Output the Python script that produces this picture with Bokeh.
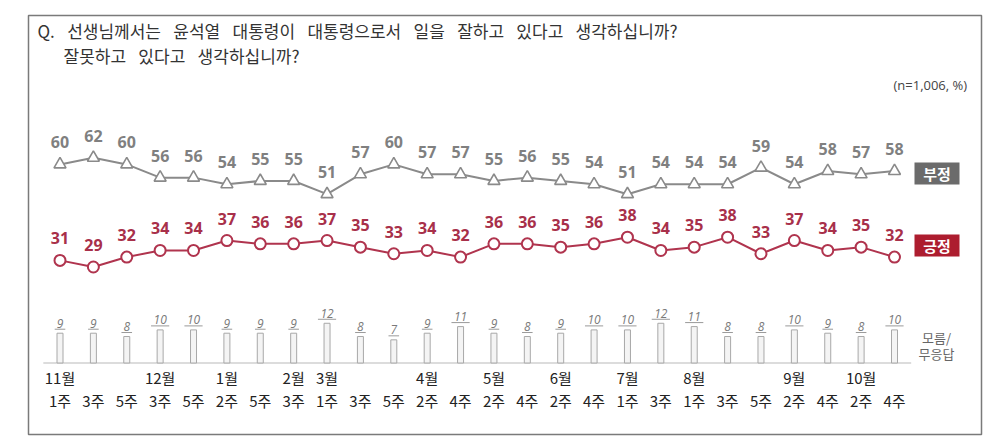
from bokeh.plotting import figure
from bokeh.models import ColumnDataSource, Label
from bokeh.core.properties import value
from bokeh.embed import file_html
from bokeh.resources import INLINE

# survey waves (month label only where a new month starts)
months = ["11월", "", "", "12월", "", "1월", "", "2월", "3월", "", "", "4월", "",
          "5월", "", "6월", "", "7월", "", "8월", "", "", "9월", "", "10월", ""]
weeks = ["1주", "3주", "5주", "3주", "5주", "2주", "5주", "3주", "1주", "3주", "5주", "2주", "4주",
         "2주", "4주", "2주", "4주", "1주", "3주", "1주", "3주", "5주", "2주", "4주", "2주", "4주"]

negative = [60, 62, 60, 56, 56, 54, 55, 55, 51, 57, 60, 57, 57,
            55, 56, 55, 54, 51, 54, 54, 54, 59, 54, 58, 57, 58]
positive = [31, 29, 32, 34, 34, 37, 36, 36, 37, 35, 33, 34, 32,
            36, 36, 35, 36, 38, 34, 35, 38, 33, 37, 34, 35, 32]
dont_know = [9, 9, 8, 10, 10, 9, 9, 9, 12, 8, 7, 9, 11,
             9, 8, 9, 10, 10, 12, 11, 8, 8, 10, 9, 8, 10]

title_1 = "Q. 선생님께서는 윤석열 대통령이 대통령으로서 일을 잘하고 있다고 생각하십니까?"
title_2 = "잘못하고 있다고 생각하십니까?"
sample_note = "(n=1,006,  %)"

KR = "Noto Sans CJK KR"
NUM = "Open Sans"
GREY = "#8a8a8a"
RED = "#b0344e"

# page layout helpers (page px -> data units)
X0, XS = 59.5, 33.38
Y0, YS = 362.5, 3.31


def dx(px):
    return (px - X0) / XS


def dy(py):
    return (Y0 - py) / YS


def wide(s):
    # the original uses wide word gaps
    return s.replace(" ", "\u2002 ")


idx = list(range(len(weeks)))

p = figure(width=993, height=439,
           x_range=(dx(28), dx(981)), y_range=(dy(434), dy(15)),
           x_axis_location=None, y_axis_location=None,
           min_border_left=28, min_border_right=12, min_border_top=15, min_border_bottom=5,
           toolbar_location=None, output_backend="svg")
p.grid.visible = False
p.outline_line_color = "#7a7a7a"
p.outline_line_width = 1.5
p.background_fill_color = "white"

src = ColumnDataSource(data={
    "x": idx,
    "neg": negative,
    "pos": positive,
    "dk": dont_know,
    "neg_t": [str(v) for v in negative],
    "pos_t": [str(v) for v in positive],
    "dk_t": [str(v) for v in dont_know],
    "month": months,
    "week": weeks,
    "ul_x0": [i - (3.8 * len(str(v)) + 1.5) / XS for i, v in zip(idx, dont_know)],
    "ul_x1": [i + (3.8 * len(str(v)) + 1.5) / XS for i, v in zip(idx, dont_know)],
    "ul_y": [v + 4.0 / YS for v in dont_know],
    "m_y": [dy(377)] * len(idx),
    "w_y": [dy(400)] * len(idx),
})

# don't know / no answer bars
p.segment(x0=-0.5, x1=len(idx) - 0.5, y0=0, y1=0, line_color="#dcdcdc", line_width=2)
p.vbar(x="x", top="dk", width=6 / XS, source=src,
       fill_color="#f4f4f4", line_color="#a8a8a8", line_width=1)
p.text("x", "dk", text="dk_t", source=src, y_offset=-10,
       text_align="center", text_baseline="middle", text_font=value(NUM),
       text_font_style="italic", text_font_size="12px", text_color="#7a7a7a")
p.segment(x0="ul_x0", x1="ul_x1", y0="ul_y", y1="ul_y", source=src,
          line_color="#9a9a9a", line_width=1)

# negative
p.line("x", "neg", source=src, line_color=GREY, line_width=2)
p.scatter("x", "neg", source=src, marker="triangle", size=12,
          fill_color="white", line_color=GREY, line_width=1.6)
p.text("x", "neg", text="neg_t", source=src, y_offset=-22,
       text_align="center", text_baseline="middle", text_font=value(NUM),
       text_font_style="bold", text_font_size="16px", text_color="#808080")

# positive
p.line("x", "pos", source=src, line_color=RED, line_width=2)
p.scatter("x", "pos", source=src, marker="circle", size=11,
          fill_color="white", line_color=RED, line_width=2)
p.text("x", "pos", text="pos_t", source=src, y_offset=-22,
       text_align="center", text_baseline="middle", text_font=value(NUM),
       text_font_style="bold", text_font_size="16px", text_color="#a8304a")

# x labels
p.text("x", "m_y", text="month", source=src, text_align="center", text_baseline="middle",
       text_font=value(KR), text_font_size="15px", text_color="#222222")
p.text("x", "w_y", text="week", source=src, text_align="center", text_baseline="middle",
       text_font=value(KR), text_font_size="15px", text_color="#222222")

# series badges
p.rect(x=[dx(936.5), dx(936.5)], y=[dy(173), dy(245)], width=45, height=22,
       width_units="screen", height_units="screen",
       fill_color=["#6b6b6b", "#ad1d2f"], line_color=None)
p.text(x=[dx(936.5), dx(936.5)], y=[dy(173), dy(245)], text=["부정", "긍정"],
       text_align="center", text_baseline="middle", text_font=value(KR),
       text_font_style="bold", text_font_size="15px", text_color="white")

p.text(x=[dx(936), dx(936)], y=[dy(337), dy(353)], text=["모름/", "무응답"],
       text_align="center", text_baseline="middle", text_font=value(KR),
       text_font_size="13px", text_color="#666666")

# titles
p.add_layout(Label(x=dx(37), y=dy(30), text=wide(title_1), text_align="left", text_baseline="middle",
                   text_font=KR, text_font_size="17px", text_color="#333333"))
p.add_layout(Label(x=dx(63), y=dy(55), text=wide(title_2), text_align="left", text_baseline="middle",
                   text_font=KR, text_font_size="17px", text_color="#333333"))
p.add_layout(Label(x=dx(970), y=dy(84), text=sample_note, text_align="right", text_baseline="middle",
                   text_font=NUM, text_font_size="13px", text_color="#444444"))

open("out.html", "w").write(file_html(p, INLINE))
